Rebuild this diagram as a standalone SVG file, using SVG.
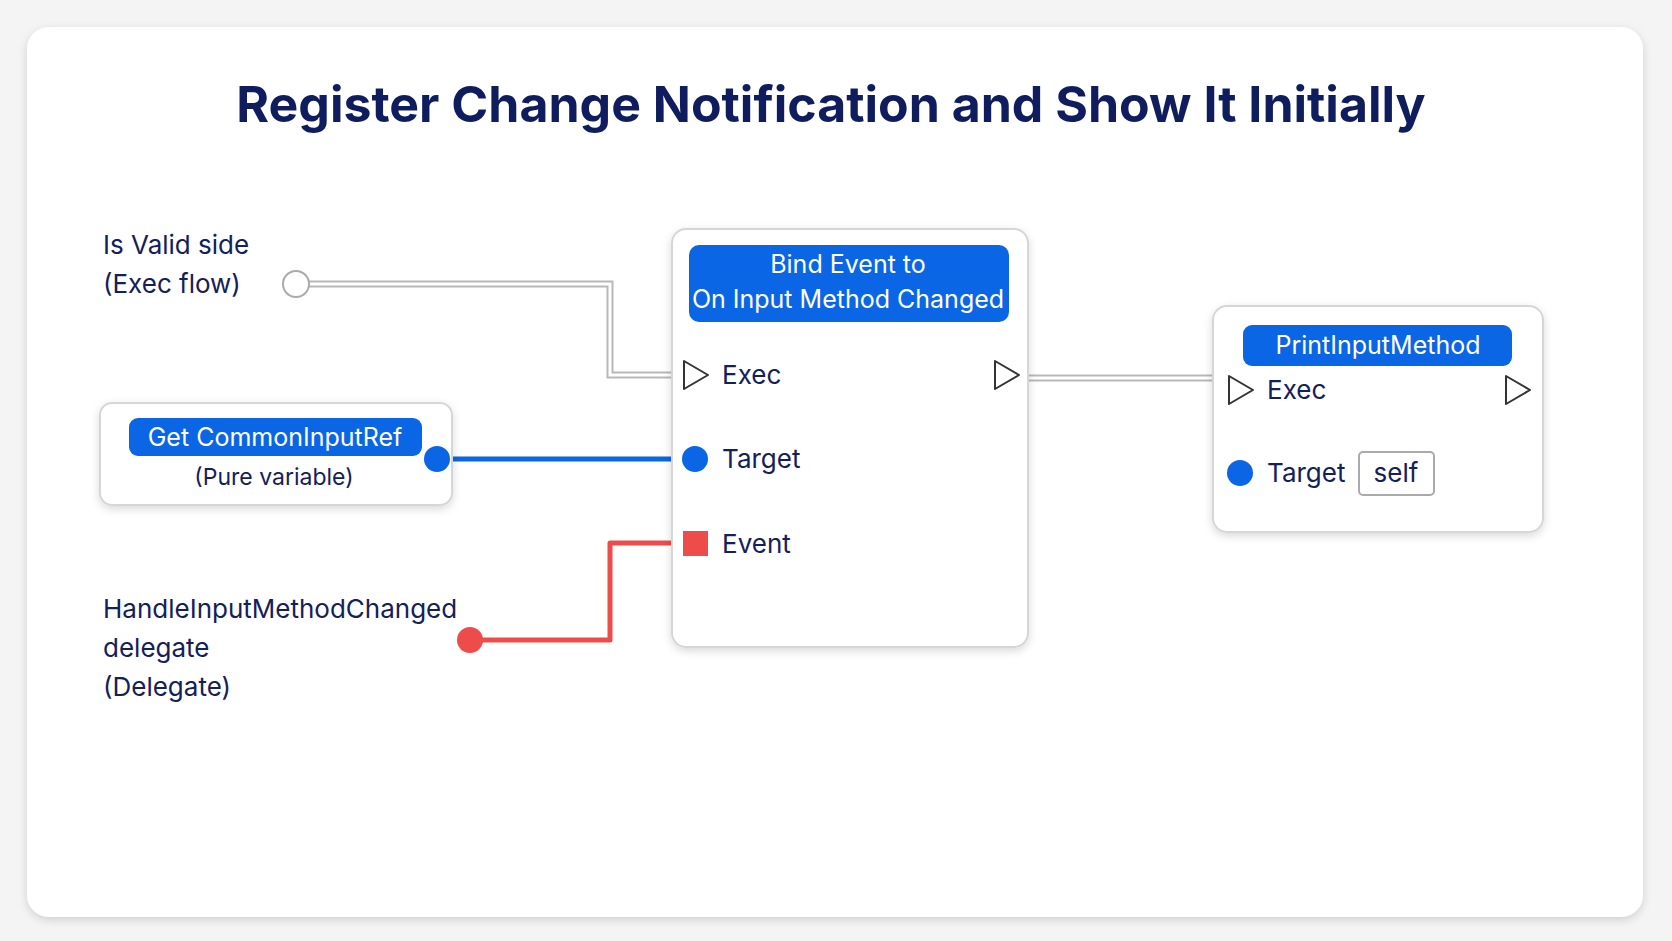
<svg xmlns="http://www.w3.org/2000/svg" width="1672" height="941" viewBox="0 0 1672 941">
<defs>
<filter id="sh" x="-10%" y="-10%" width="120%" height="130%"><feDropShadow dx="0" dy="3" stdDeviation="4" flood-color="#000" flood-opacity="0.15"/></filter>
<style>
text{font-family:Inter,"Open Sans","Liberation Sans",sans-serif;fill:#14205a}
.lbl{font-size:26px}
.hd{font-size:25px;fill:#fff;text-anchor:middle}
.node{fill:#fff;stroke:#d6d6d6;stroke-width:2}
.head{fill:#0a66e4}
.exec{fill:#fff;stroke:#333;stroke-width:2;stroke-linejoin:round}
</style>
</defs>
<rect width="1672" height="941" fill="#f4f4f4"/>
<rect x="27" y="27" width="1616" height="890" rx="22" fill="#fff" filter="url(#sh)"/>
<text x="831" y="122" font-size="50" font-weight="bold" text-anchor="middle" style="fill:#0f1d5e">Register Change Notification and Show It Initially</text>
<g id="connectors">
<polyline points="296,284 610,284 610,375 682,375" fill="none" stroke="#b8b8b8" stroke-width="7"/>
<polyline points="296,284 610,284 610,375 682,375" fill="none" stroke="#fff" stroke-width="3"/>
<line x1="1021" y1="378" x2="1215" y2="378" stroke="#b8b8b8" stroke-width="7"/>
<line x1="1021" y1="378" x2="1215" y2="378" stroke="#fff" stroke-width="3"/>
<line x1="437" y1="459" x2="695" y2="459" stroke="#0a66e4" stroke-width="5"/>
<polyline points="470,640 610,640 610,543 683,543" fill="none" stroke="#ee4b4b" stroke-width="5" stroke-linejoin="round"/>
</g>
<g id="isvalid">
<text class="lbl" x="103" y="254">Is Valid side</text>
<text class="lbl" x="103" y="293">(Exec flow)</text>
<circle cx="296" cy="284" r="13" fill="#fff" stroke="#aaa" stroke-width="2"/>
</g>
<g id="handle">
<text class="lbl" x="103" y="618">HandleInputMethodChanged</text>
<text class="lbl" x="103" y="657">delegate</text>
<text class="lbl" x="103" y="696">(Delegate)</text>
<circle cx="470" cy="640" r="13" fill="#ee4b4b"/>
</g>
<g id="getref">
<rect class="node" x="100" y="403" width="352" height="102" rx="12" filter="url(#sh)"/>
<rect class="head" x="129" y="418" width="293" height="38" rx="9"/>
<text class="hd" x="275" y="446">Get CommonInputRef</text>
<text x="274" y="485" font-size="23" text-anchor="middle">(Pure variable)</text>
<circle cx="437" cy="459" r="13" fill="#0a66e4"/>
</g>
<g id="bind">
<rect class="node" x="672" y="229" width="356" height="418" rx="14" filter="url(#sh)"/>
<rect class="head" x="689" y="245" width="320" height="77" rx="10"/>
<text class="hd" x="848" y="273">Bind Event to</text>
<text class="hd" x="848" y="308">On Input Method Changed</text>
<path class="exec" d="M684,361 L708,375 L684,389 Z"/>
<text class="lbl" x="722" y="384">Exec</text>
<path class="exec" d="M995,361 L1019,375 L995,389 Z"/>
<circle cx="695" cy="459" r="13" fill="#0a66e4"/>
<text class="lbl" x="722" y="468">Target</text>
<rect x="683" y="531" width="25" height="25" fill="#ee4b4b"/>
<text class="lbl" x="722" y="553">Event</text>
</g>
<g id="print">
<rect class="node" x="1213" y="306" width="330" height="226" rx="14" filter="url(#sh)"/>
<rect class="head" x="1243" y="325" width="269" height="41" rx="9"/>
<text class="hd" x="1378" y="354">PrintInputMethod</text>
<path class="exec" d="M1229,376 L1253,390 L1229,404 Z"/>
<text class="lbl" x="1267" y="399">Exec</text>
<path class="exec" d="M1506,376 L1530,390 L1506,404 Z"/>
<circle cx="1240" cy="473" r="13" fill="#0a66e4"/>
<text class="lbl" x="1267" y="482">Target</text>
<rect x="1359" y="452" width="75" height="43" rx="4" fill="#fff" stroke="#aaa" stroke-width="2"/>
<text class="lbl" x="1396" y="482" text-anchor="middle">self</text>
</g>
</svg>
